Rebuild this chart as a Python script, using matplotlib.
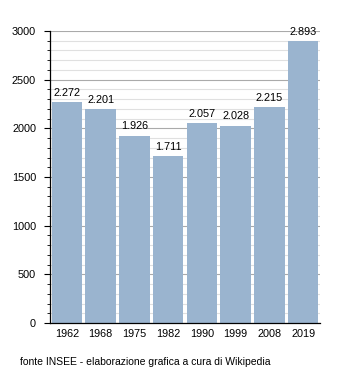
import matplotlib.pyplot as plt
from matplotlib.ticker import MultipleLocator

years = ["1962", "1968", "1975", "1982", "1990", "1999", "2008", "2019"]
population = [2272, 2201, 1926, 1711, 2057, 2028, 2215, 2893]
value_labels = ["2.272", "2.201", "1.926", "1.711", "2.057", "2.028", "2.215", "2.893"]

BAR = "#9ab4cf"

plt.rcParams["font.family"] = ["Liberation Sans", "DejaVu Sans"]
plt.rcParams["font.size"] = 7.8

fig = plt.figure(figsize=(3.5, 3.73), dpi=100)
ax = fig.add_axes([50 / 350, 1 - 323 / 373, 270 / 350, 292 / 373])

x = range(len(years))
ax.bar(x, population, width=0.9, color=BAR, zorder=2)
for i, (v, lab) in enumerate(zip(population, value_labels)):
    ax.annotate(lab, (i, v), xytext=(0, 3), textcoords="offset points",
                ha="center", va="bottom", fontsize=7.8)

ax.set_xlim(-0.5, len(years) - 0.5)
ax.set_ylim(0, 3000)
ax.set_xticks(list(x))
ax.set_xticklabels(years)
ax.yaxis.set_major_locator(MultipleLocator(500))
ax.yaxis.set_minor_locator(MultipleLocator(100))
ax.grid(axis="y", which="major", color="#aaaaaa", linewidth=0.8, zorder=0)
ax.grid(axis="y", which="minor", color="#e0e0e0", linewidth=0.8, zorder=0)
ax.tick_params(axis="x", length=0, pad=4)
ax.tick_params(axis="y", which="major", length=4, width=0.8, pad=6)
ax.tick_params(axis="y", which="minor", length=2.5, width=0.6)

for s in ("top", "right"):
    ax.spines[s].set_visible(False)
ax.spines["left"].set_linewidth(0.9)
ax.spines["bottom"].set_linewidth(0.9)

fig.text(20 / 350, 1 - 362 / 373, "fonte INSEE - elaborazione grafica a cura di Wikipedia",
         fontsize=7.5, va="center")

fig.savefig("out.png", dpi=100)
